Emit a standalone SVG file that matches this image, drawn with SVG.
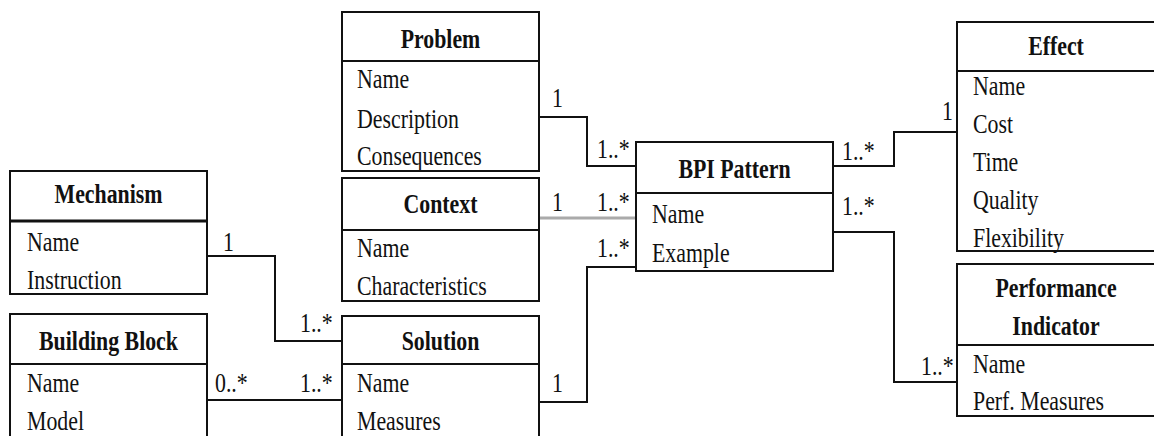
<svg xmlns="http://www.w3.org/2000/svg" width="1154" height="436" viewBox="0 0 1154 436" font-family="Liberation Serif, Times New Roman, serif">
  <style>
    .box { fill: #fff; stroke: #111; stroke-width: 2; }
    .sep { stroke: #111; stroke-width: 2; }
    .t { font-size: 28px; fill: #111; }
    .h { font-weight: bold; text-anchor: middle; }
    .link { fill: none; stroke: #111; stroke-width: 2; }
    .link-soft { fill: none; stroke: #aaa; stroke-width: 3; }
  </style>

  <!-- connectors and multiplicities -->
  <g id="connectors" font-family="Liberation Serif, Times New Roman, serif">
    <path class="link" d="M207 256 H275 V341 H342"/>
    <path class="link" d="M207 400 H342"/>
    <path class="link" d="M539 117 H587 V166 H636"/>
    <path class="link-soft" d="M539 218 H636"/>
    <path class="link" d="M539 402 H587 V267 H636"/>
    <path class="link" d="M833 166 H894 V132 H957"/>
    <path class="link" d="M833 232 H894 V382 H957"/>

    <text class="t" transform="translate(223 251) scale(0.78 1)">1</text>
    <text class="t" transform="translate(300 332) scale(0.78 1)">1..*</text>
    <text class="t" transform="translate(215 392) scale(0.78 1)">0..*</text>
    <text class="t" transform="translate(300 392) scale(0.78 1)">1..*</text>
    <text class="t" transform="translate(552 107) scale(0.78 1)">1</text>
    <text class="t" transform="translate(597 158) scale(0.78 1)">1..*</text>
    <text class="t" transform="translate(552 211) scale(0.78 1)">1</text>
    <text class="t" transform="translate(597 211) scale(0.78 1)">1..*</text>
    <text class="t" transform="translate(597 257) scale(0.78 1)">1..*</text>
    <text class="t" transform="translate(552 392) scale(0.78 1)">1</text>
    <text class="t" transform="translate(842 160) scale(0.78 1)">1..*</text>
    <text class="t" transform="translate(842 215) scale(0.78 1)">1..*</text>
    <text class="t" transform="translate(942 120) scale(0.78 1)">1</text>
    <text class="t" transform="translate(921 375) scale(0.78 1)">1..*</text>
  </g>

  <!-- Mechanism -->
  <g id="mechanism" font-family="Liberation Serif, Times New Roman, serif">
    <rect class="box" x="10" y="171" width="197" height="123"/>
    <line class="sep" x1="10" y1="221" x2="207" y2="221" style="stroke-width:3"/>
    <text class="t h" transform="translate(108.5 203) scale(0.78 1)">Mechanism</text>
    <text class="t" transform="translate(27 251) scale(0.78 1)">Name</text>
    <text class="t" transform="translate(27 289) scale(0.78 1)">Instruction</text>
  </g>

  <!-- Building Block -->
  <g id="building-block" font-family="Liberation Serif, Times New Roman, serif">
    <rect class="box" x="10" y="314" width="197" height="130"/>
    <line class="sep" x1="10" y1="364" x2="207" y2="364"/>
    <text class="t h" transform="translate(108.5 350) scale(0.78 1)">Building Block</text>
    <text class="t" transform="translate(27 392) scale(0.78 1)">Name</text>
    <text class="t" transform="translate(27 430) scale(0.78 1)">Model</text>
  </g>

  <!-- Problem -->
  <g id="problem" font-family="Liberation Serif, Times New Roman, serif">
    <rect class="box" x="342" y="12" width="197" height="159"/>
    <line class="sep" x1="342" y1="61" x2="539" y2="61"/>
    <text class="t h" transform="translate(440.5 48) scale(0.78 1)">Problem</text>
    <text class="t" transform="translate(357 88) scale(0.78 1)">Name</text>
    <text class="t" transform="translate(357 128) scale(0.78 1)">Description</text>
    <text class="t" transform="translate(357 165) scale(0.78 1)">Consequences</text>
  </g>

  <!-- Context -->
  <g id="context" font-family="Liberation Serif, Times New Roman, serif">
    <rect class="box" x="342" y="178" width="197" height="123"/>
    <line class="sep" x1="342" y1="230" x2="539" y2="230"/>
    <text class="t h" transform="translate(440.5 213) scale(0.78 1)">Context</text>
    <text class="t" transform="translate(357 257) scale(0.78 1)">Name</text>
    <text class="t" transform="translate(357 295) scale(0.78 1)">Characteristics</text>
  </g>

  <!-- Solution -->
  <g id="solution" font-family="Liberation Serif, Times New Roman, serif">
    <rect class="box" x="342" y="316" width="197" height="128"/>
    <line class="sep" x1="342" y1="364" x2="539" y2="364"/>
    <text class="t h" transform="translate(440.5 350) scale(0.78 1)">Solution</text>
    <text class="t" transform="translate(357 392) scale(0.78 1)">Name</text>
    <text class="t" transform="translate(357 430) scale(0.78 1)">Measures</text>
  </g>

  <!-- BPI Pattern -->
  <g id="bpi-pattern" font-family="Liberation Serif, Times New Roman, serif">
    <rect class="box" x="636" y="142" width="197" height="129"/>
    <line class="sep" x1="636" y1="193" x2="833" y2="193"/>
    <text class="t h" transform="translate(734.5 178) scale(0.78 1)">BPI Pattern</text>
    <text class="t" transform="translate(652 223) scale(0.78 1)">Name</text>
    <text class="t" transform="translate(652 262) scale(0.78 1)">Example</text>
  </g>

  <!-- Effect -->
  <g id="effect" font-family="Liberation Serif, Times New Roman, serif">
    <rect class="box" x="957" y="22" width="198" height="229"/>
    <line class="sep" x1="957" y1="71" x2="1155" y2="71"/>
    <text class="t h" transform="translate(1056 55) scale(0.78 1)">Effect</text>
    <text class="t" transform="translate(973 95) scale(0.78 1)">Name</text>
    <text class="t" transform="translate(973 133) scale(0.78 1)">Cost</text>
    <text class="t" transform="translate(973 171) scale(0.78 1)">Time</text>
    <text class="t" transform="translate(973 209) scale(0.78 1)">Quality</text>
    <text class="t" transform="translate(973 247) scale(0.78 1)">Flexibility</text>
  </g>

  <!-- Performance Indicator -->
  <g id="performance-indicator" font-family="Liberation Serif, Times New Roman, serif">
    <rect class="box" x="957" y="264" width="198" height="152"/>
    <line class="sep" x1="957" y1="345" x2="1155" y2="345"/>
    <text class="t h" transform="translate(1056 297) scale(0.78 1)">Performance</text>
    <text class="t h" transform="translate(1056 335) scale(0.78 1)">Indicator</text>
    <text class="t" transform="translate(973 373) scale(0.78 1)">Name</text>
    <text class="t" transform="translate(973 410) scale(0.78 1)">Perf. Measures</text>
  </g>
</svg>
